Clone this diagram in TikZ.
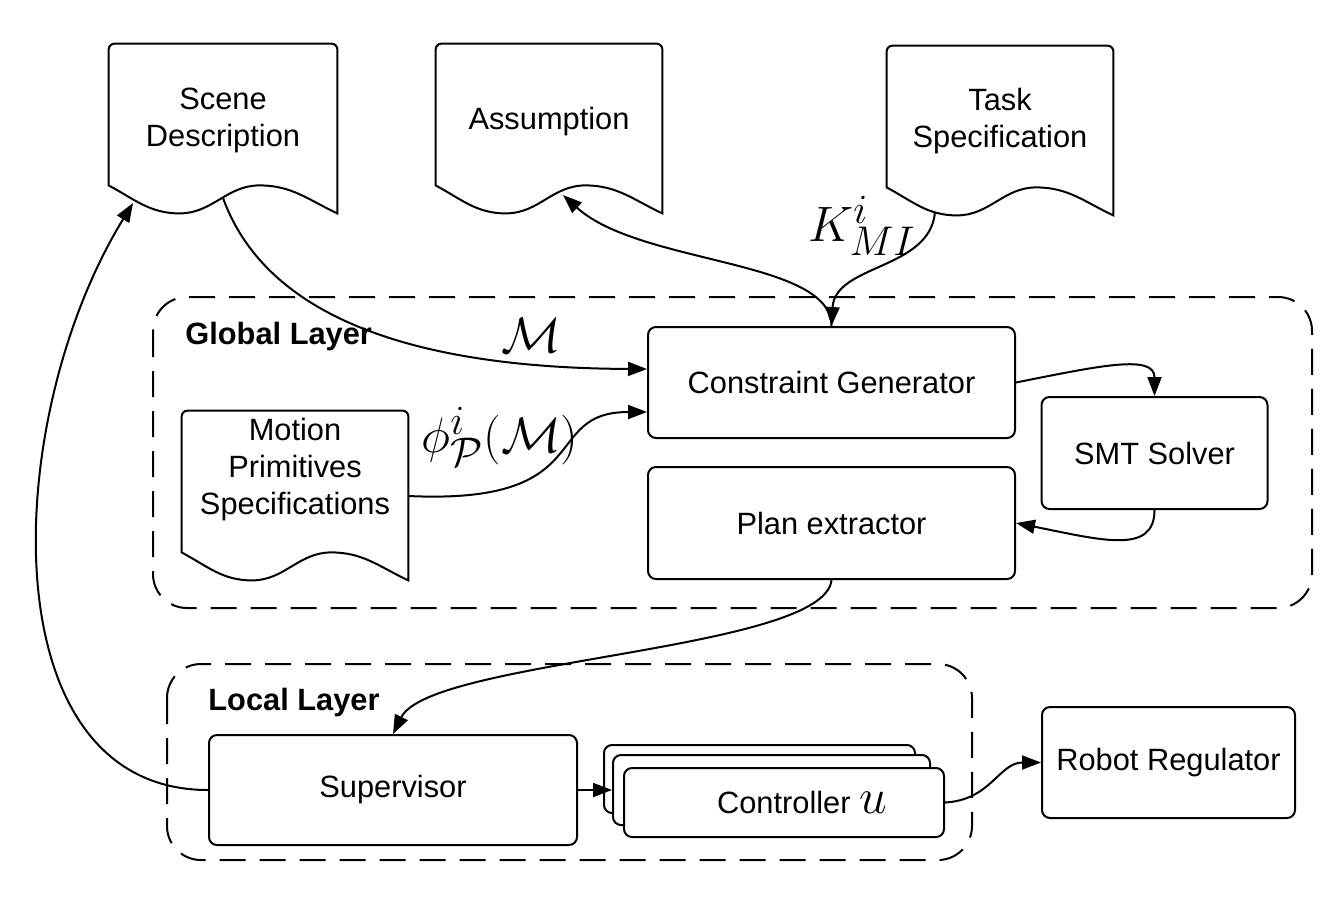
\documentclass[tikz,border=0pt]{standalone}
\usepackage[no-math]{fontspec}
\setmainfont{Liberation Sans}
\usetikzlibrary{arrows.meta,calc}

\newcommand\txtsize{\fontsize{15.4}{18.5}\selectfont}
\newcommand\mathsize{\fontsize{24.88}{30}\selectfont}

% outline of a "document" shape around a node:
% #1 node name, #2 height of the flat left bottom above the node's south side
\newcommand\docoutline[2]{%
  \draw[docline]
    ($(#1.south west)+(0,#2)$) [rounded corners=3pt] -- (#1.north west) -- (#1.north east)
    [sharp corners] -- ($(#1.south east)+(0,#2-28)$)
    to[out=155,in=0] ($(#1.south west)!0.66!(#1.south east)+(0,#2)$)
    to[out=180,in=0] ($(#1.south west)!0.31!(#1.south east)+(0,#2-28)$)
    to[out=180,in=-28] ($(#1.south west)+(0,#2)$) -- cycle;}

\tikzset{
  procbox/.style={draw, line width=1pt, rounded corners=4pt, fill=white,
    align=center, inner sep=0pt, font=\txtsize},
  docnode/.style={align=center, inner sep=0pt, font=\txtsize},
  docline/.style={line width=1pt},
  layerbox/.style={draw, line width=1pt, dash pattern=on 13pt off 7pt,
    rounded corners=17pt},
  layertitle/.style={font=\txtsize\bfseries, anchor=west, inner sep=0pt},
  flow/.style={line width=1pt, -{Triangle[length=9.5pt,width=7pt]}},
  mathlabel/.style={font=\mathsize, inner sep=0pt},
}

\begin{document}
\begin{tikzpicture}[x=0.5pt, y=0.5pt]
\fill[white] (0,0) rectangle (1337,-901);
\useasboundingbox (0,0) rectangle (1337,-901);

% layers
\draw[layerbox] (153,-297) rectangle (1312,-608);
\draw[layerbox] (167,-664) rectangle (972,-860);
\node[layertitle] (globaltitle) at (185,-337) {Global Layer};
\node[layertitle] (localtitle) at (208,-703) {Local Layer};

% documents
\node[docnode, minimum width=114pt, minimum height=76pt] (scene) at (223,-120) {Scene\\Description};
\docoutline{scene}{11}
\node[docnode, minimum width=113pt, minimum height=78pt] (assum) at (549,-122) {Assumption};
\docoutline{assum}{15}
\node[docnode, minimum width=113pt, minimum height=75pt] (task) at (1000,-121) {Task\\Specification};
\docoutline{task}{9}
\node[docnode, minimum width=113pt, minimum height=59pt] (motion) at (295,-470) {Motion\\Primitives\\Specifications};
\docoutline{motion}{-23}

% process boxes
\node[procbox, minimum width=183.5pt, minimum height=55.5pt] (cg) at (831.5,-382.5) {Constraint Generator};
\node[procbox, minimum width=113pt, minimum height=56pt] (smt) at (1154.5,-453) {SMT Solver};
\node[procbox, minimum width=183.5pt, minimum height=56pt] (plan) at (831.5,-523) {Plan extractor};
\node[procbox, minimum width=184pt, minimum height=55pt] (sup) at (393,-790) {Supervisor};
\node[procbox, minimum width=126.5pt, minimum height=55.5pt] (robot) at (1168.5,-762.5) {Robot Regulator};

% stack of controllers
\node[procbox, minimum width=155.5pt, minimum height=34pt] (ctrlc) at (759.5,-779) {};
\node[procbox, minimum width=158.5pt, minimum height=35pt] (ctrlb) at (771.5,-790) {};
\node[procbox, minimum width=160pt, minimum height=34.5pt] (ctrl) at (784,-802.5)
  {\hspace*{18pt}Controller {\mathsize$u$}};

% labels
\node[mathlabel] (mlab) at (531,-335) {$\mathcal{M}$};
\node[mathlabel] (philab) at (500,-437) {$\phi^{i}_{\mathcal{P}}(\mathcal{M})$};
\node[mathlabel] (klab) at (862,-226) {$K^{i}_{MI}$};

% connectors
\draw[flow] ([shift={(0,-78)}]scene.center) .. controls +(37,-102) and +(-268,1) .. ([shift={(0,13.5)}]cg.west);
\draw[flow] ([shift={(0,-26)}]motion.east) .. controls +(192,-9) and +(-108,0) .. ([shift={(0,-29.5)}]cg.west);
\draw[flow] (cg.north) .. controls +(0,67) and +(77,-70) .. ([shift={(14,-73)}]assum.center);
\draw[flow] ([shift={(-65,-91)}]task.center) .. controls +(-5,-58) and +(3.5,62) .. (cg.north);
\draw[flow] (cg.east) .. controls +(85,17) and +(0,42) .. (smt.north);
\draw[flow] (smt.south) .. controls +(0,-45) and +(85,-17) .. (plan.east);
\draw[flow] (plan.south) .. controls +(-6.5,-71) and +(37,75) .. (sup.north);
\draw[flow] (sup.west) .. controls +(-219,0) and +(-133,-217) .. ([shift={(-90,-83)}]scene.center);
\draw[flow] (sup.east) -- (ctrlb.west);
\draw[flow] (ctrl.east) .. controls +(46,2.5) and +(-42,0) .. (robot.west);
\end{tikzpicture}
\end{document}
